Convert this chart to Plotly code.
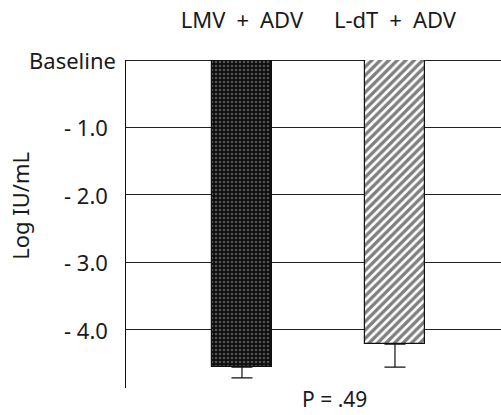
import plotly.graph_objects as go

categories = ["LMV + ADV", "L-dT + ADV"]
values = [-4.55, -4.21]
errors_minus = [0.16, 0.34]
tick_vals = [0, -1, -2, -3, -4]
tick_labels = ["Baseline", "- 1.0", "- 2.0", "- 3.0", "- 4.0"]
p_text = "P = .49"
y_title = "Log IU/mL"

FONT = "Noto Sans"
FS = 22
cat_text = [c.replace(" ", "\u2002") for c in categories]

patterns = [
    dict(shape=".", fgcolor="#9a9a9a", bgcolor="#0d0d0d", size=4, solidity=0.35),
    dict(shape="/", fgcolor="#000000", bgcolor="#ffffff", size=6, solidity=0.55),
]

fig = go.Figure()
for i, cat in enumerate(categories):
    fig.add_trace(go.Bar(
        x=[cat], y=[values[i]],
        width=0.386,
        marker=dict(color="white", pattern=patterns[i],
                    line=dict(color="#111111", width=1.2)),
        error_y=dict(type="data", symmetric=False, array=[0], arrayminus=[errors_minus[i]],
                     color="#111111", thickness=1.2, width=10.5),
        showlegend=False,
    ))

# y tick labels drawn as annotations at the tick values (the baseline label sits closer to the axis)
tick_annotations = [
    dict(text=lab, xref="paper", yref="y", x=0, y=val,
         xshift=(-8 if i == 0 else -16), xanchor="right", yanchor="middle",
         showarrow=False, font=dict(size=FS))
    for i, (val, lab) in enumerate(zip(tick_vals, tick_labels))
]

fig.update_layout(
    width=501, height=415,
    margin=dict(l=126, r=0, t=60, b=27),
    paper_bgcolor="white", plot_bgcolor="white",
    font=dict(family=FONT, size=FS, color="#1a1a1a"),
    bargap=0,
    xaxis=dict(side="top", range=[-0.758, 1.693], showgrid=False, showline=False,
               zeroline=False, ticks="", ticklen=0, ticklabelstandoff=27, automargin=False,
               tickvals=categories, ticktext=cat_text,
               tickfont=dict(size=FS)),
    yaxis=dict(range=[-4.86, 0], tickvals=tick_vals, showticklabels=False,
               showgrid=True, gridcolor="#222222", gridwidth=1,
               zeroline=True, zerolinecolor="#222222", zerolinewidth=1,
               showline=True, linecolor="#111111", linewidth=1.2,
               ticks="", automargin=False),
    annotations=tick_annotations + [
        dict(text=p_text, xref="paper", yref="paper", x=0.555, y=0,
             yshift=-27, showarrow=False, font=dict(size=21),
             xanchor="center", yanchor="bottom"),
        dict(text=y_title, xref="paper", yref="paper", x=-0.283, y=0.555,
             textangle=-90, showarrow=False, font=dict(size=FS),
             xanchor="center", yanchor="middle"),
    ],
)

fig.write_html("out.html", config={"displayModeBar": False},
               post_script="document.body.style.margin='0';document.body.style.overflow='hidden';")
